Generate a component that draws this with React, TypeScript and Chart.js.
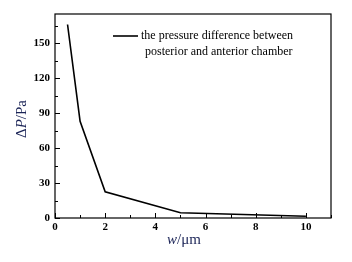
import React, { useEffect, useRef } from "react";
import { Chart, registerables } from "chart.js";

Chart.register(...registerables);

const widths = [0.5, 1, 2, 5, 10];
const pressureDiff = [166, 83, 22.5, 4.5, 1.5];
const xTicks = [0, 2, 4, 6, 8, 10];
const yTicks = [0, 30, 60, 90, 120, 150];
const legendLines = ["the pressure difference between", "posterior and anterior chamber"];

const SERIF = '"Liberation Serif", "Times New Roman", serif';
const NAVY = "#1a2356";

const framePlugin = {
  id: "frame",
  afterDraw(chart: any) {
    const { ctx, chartArea: a, scales } = chart;
    const xs = scales.x;
    const ys = scales.y;
    ctx.save();
    ctx.strokeStyle = "#000";
    ctx.lineWidth = 1.2;
    ctx.strokeRect(a.left, a.top, a.right - a.left, a.bottom - a.top);
    ctx.lineWidth = 1;
    for (let v = 0; v <= 11; v += 1) {
      const px = Math.round(xs.getPixelForValue(v)) + 0.5;
      const len = v % 2 === 0 ? 5 : 3;
      ctx.beginPath();
      ctx.moveTo(px, a.bottom);
      ctx.lineTo(px, a.bottom - len);
      ctx.stroke();
    }
    for (let v = 0; v <= 175; v += 15) {
      const py = Math.round(ys.getPixelForValue(v)) + 0.5;
      const len = v % 30 === 0 ? 5 : 3;
      ctx.beginPath();
      ctx.moveTo(a.left, py);
      ctx.lineTo(a.left + len, py);
      ctx.stroke();
    }
    // legend
    const lx = 113;
    const ly = 36;
    ctx.lineWidth = 1.6;
    ctx.beginPath();
    ctx.moveTo(lx, ly);
    ctx.lineTo(lx + 25, ly);
    ctx.stroke();
    ctx.fillStyle = "#000";
    ctx.font = `12px ${SERIF}`;
    ctx.textBaseline = "middle";
    ctx.textAlign = "left";
    ctx.fillText(legendLines[0], lx + 28, ly);
    ctx.fillText(legendLines[1], lx + 32, ly + 16);

    const drawParts = (parts: [string, boolean][], cx: number, cy: number, rot: number) => {
      ctx.save();
      ctx.translate(cx, cy);
      ctx.rotate(rot);
      ctx.fillStyle = NAVY;
      ctx.textBaseline = "middle";
      ctx.textAlign = "left";
      let total = 0;
      const widthsArr = parts.map(([t, it]) => {
        ctx.font = `${it ? "italic " : ""}15px ${SERIF}`;
        const w = ctx.measureText(t).width;
        total += w;
        return w;
      });
      let x = -total / 2;
      parts.forEach(([t, it], i) => {
        ctx.font = `${it ? "italic " : ""}15px ${SERIF}`;
        ctx.fillText(t, x, 0);
        x += widthsArr[i];
      });
      ctx.restore();
    };
    drawParts([["Δ", false], ["P", true], ["/Pa", false]], 22, 119, -Math.PI / 2);
    drawParts([["w", true], ["/μm", false]], 184, 240, 0);
    ctx.restore();
  },
};

export default function App() {
  const ref = useRef<HTMLCanvasElement>(null);
  useEffect(() => {
    document.body.style.margin = "0";
    const chart = new Chart(ref.current!, {
      type: "line",
      data: {
        datasets: [
          {
            data: widths.map((w, i) => ({ x: w, y: pressureDiff[i] })),
            borderColor: "#000",
            borderWidth: 1.6,
            pointRadius: 0,
            tension: 0,
            fill: false,
          },
        ],
      },
      options: {
        animation: false,
        responsive: false,
        layout: { padding: { top: 14, right: 21, left: 0, bottom: 0 } },
        plugins: { legend: { display: false }, tooltip: { enabled: false } },
        scales: {
          x: {
            type: "linear",
            min: 0,
            max: 11,
            grid: { display: false, drawTicks: false },
            border: { display: false },
            afterBuildTicks: (s: any) => {
              s.ticks = xTicks.map((v) => ({ value: v }));
            },
            afterFit: (s: any) => {
              s.height = 44;
            },
            ticks: {
              padding: 3,
              color: "#000",
              font: { family: SERIF, size: 11, weight: "bold" },
              maxRotation: 0,
            },
          },
          y: {
            type: "linear",
            min: 0,
            max: 175,
            grid: { display: false, drawTicks: false },
            border: { display: false },
            afterBuildTicks: (s: any) => {
              s.ticks = yTicks.map((v) => ({ value: v }));
            },
            afterFit: (s: any) => {
              s.width = 55;
            },
            ticks: {
              padding: 5,
              color: "#000",
              font: { family: SERIF, size: 11, weight: "bold" },
            },
          },
        },
      },
      plugins: [framePlugin],
    });
    return () => chart.destroy();
  }, []);
  return <canvas ref={ref} width={352} height={262} style={{ display: "block" }} />;
}
